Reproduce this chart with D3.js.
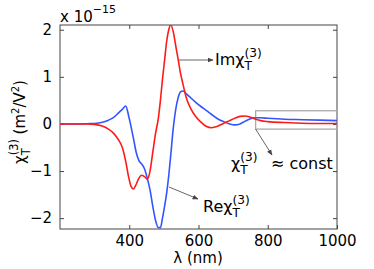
<!DOCTYPE html>
<html>
<head>
<meta charset="utf-8">
<script src="https://cdn.jsdelivr.net/npm/d3@7"></script>
<style>
  body { margin: 0; background: #fff; }
  text { font-family: "DejaVu Sans", sans-serif; fill: #000; }
</style>
</head>
<body>
<svg id="chart" width="374" height="269"></svg>
<script>
// wavelength grid (nm)
var lambda = [200, 250, 280, 300, 320, 340, 355, 370, 380, 390, 398, 405, 412, 420, 428, 436, 444, 452, 460, 468,
    476, 484, 490, 496, 502, 508, 514, 520, 527, 534, 541, 548, 555, 565, 578, 592, 607, 622, 638, 655,
    672, 690, 705, 720, 735, 750, 765, 780, 800, 850, 900, 950, 1000];

// Re chi_T^(3), units of 1e-15 m^2/V^2
var reChi = [0, 0, 0.005, 0.01, 0.03, 0.08, 0.14, 0.24, 0.31, 0.38, 0.18, -0.05, -0.3, -0.6, -0.78, -0.85, -0.95, -1.15, -1.4, -1.75,
    -2.05, -2.2, -2.2, -2.0, -1.75, -1.47, -1.1, -0.65, -0.1, 0.3, 0.55, 0.68, 0.7, 0.64, 0.55, 0.46, 0.37, 0.29, 0.2, 0.11,
    0.05, 0.0, -0.02, 0.0, 0.06, 0.11, 0.13, 0.13, 0.12, 0.1, 0.09, 0.08, 0.07];

// Im chi_T^(3)
var imChi = [0, 0, 0, -0.01, -0.04, -0.11, -0.2, -0.35, -0.5, -0.8, -1.12, -1.32, -1.38, -1.28, -1.15, -1.09, -1.12, -1.17, -1.0, -0.6,
    -0.2, 0.12, 0.5, 0.95, 1.35, 1.75, 2.0, 2.1, 1.96, 1.67, 1.38, 1.08, 0.85, 0.55, 0.32, 0.16, 0.04, -0.05, -0.08, -0.05,
    0.01, 0.07, 0.12, 0.16, 0.17, 0.14, 0.1, 0.07, 0.05, 0.03, 0.015, 0.01, 0.01];

var xTicks = [400, 600, 800, 1000];
var yTicks = [-2, -1, 0, 1, 2];
var yTickLabels = ['\u22122', '\u22121', '0', '1', '2'];

var margin = { top: 25, right: 37, bottom: 40, left: 60 },
    width = 374,
    height = 269,
    plotW = width - margin.left - margin.right,
    plotH = height - margin.top - margin.bottom;

var svg = d3.select('#chart');

var xScale = d3.scaleLinear().domain([200, 1000]).range([margin.left, margin.left + plotW]);
var yScale = d3.scaleLinear().domain([-2.23, 2.1]).range([margin.top + plotH, margin.top]);

svg.append('defs').append('clipPath').attr('id', 'plotClip')
    .append('rect')
    .attr('x', margin.left).attr('y', margin.top)
    .attr('width', plotW).attr('height', plotH);

var marker = svg.select('defs').append('marker')
    .attr('id', 'arrow')
    .attr('viewBox', '0 0 10 10')
    .attr('refX', 9).attr('refY', 5)
    .attr('markerWidth', 6).attr('markerHeight', 6)
    .attr('markerUnits', 'userSpaceOnUse')
    .attr('orient', 'auto');
marker.append('path').attr('d', 'M0,1 L10,5 L0,9 Z').attr('fill', '#444');

// axes: inside ticks on all four sides, like the matlab box
var tickLen = 4;
var axisColor = '#444';

function styleAxis(g) {
    g.select('.domain').remove();
    g.selectAll('.tick line').attr('stroke', axisColor);
    g.selectAll('.tick text').attr('font-size', 15).attr('fill', '#000')
        .attr('font-family', '"DejaVu Sans", sans-serif');
}

svg.append('g')
    .attr('transform', 'translate(0,' + (margin.top + plotH) + ')')
    .call(d3.axisBottom(xScale).tickValues(xTicks).tickSizeInner(-tickLen).tickSizeOuter(0)
        .tickPadding(6).tickFormat(d3.format('d')))
    .call(styleAxis);

svg.append('g')
    .attr('transform', 'translate(0,' + margin.top + ')')
    .call(d3.axisTop(xScale).tickValues(xTicks.slice(0, 3)).tickSizeInner(-tickLen).tickSizeOuter(0).tickFormat(''))
    .call(styleAxis);

svg.append('g')
    .attr('transform', 'translate(' + margin.left + ',0)')
    .call(d3.axisLeft(yScale).tickValues(yTicks).tickSizeInner(-tickLen).tickSizeOuter(0)
        .tickPadding(8).tickFormat(function (d, i) { return yTickLabels[i]; }))
    .call(styleAxis);

svg.append('g')
    .attr('transform', 'translate(' + (margin.left + plotW) + ',0)')
    .call(d3.axisRight(yScale).tickValues(yTicks).tickSizeInner(-tickLen).tickSizeOuter(0).tickFormat(''))
    .call(styleAxis);

svg.append('rect')
    .attr('x', margin.left).attr('y', margin.top)
    .attr('width', plotW).attr('height', plotH)
    .attr('fill', 'none')
    .attr('stroke', axisColor)
    .attr('stroke-width', 1);

// inset box around the flat tail
svg.append('rect')
    .attr('x', xScale(765)).attr('y', yScale(0.28))
    .attr('width', xScale(1000) - xScale(765))
    .attr('height', yScale(-0.11) - yScale(0.28))
    .attr('fill', 'none')
    .attr('stroke', '#aaa')
    .attr('stroke-width', 1.3);

var lineRe = d3.line()
    .x(function (d, i) { return xScale(lambda[i]); })
    .y(function (d) { return yScale(d); })
    .curve(d3.curveMonotoneX);

var plotG = svg.append('g').attr('clip-path', 'url(#plotClip)');

plotG.append('path')
    .attr('d', lineRe(reChi))
    .attr('fill', 'none')
    .attr('stroke', '#3355ff')
    .attr('stroke-width', 1.6);

plotG.append('path')
    .attr('d', lineRe(imChi))
    .attr('fill', 'none')
    .attr('stroke', '#ff1a1a')
    .attr('stroke-width', 1.6);

// chi with stacked sub T and sup (3)
function addChi(text, size) {
    var s = size * 0.76;
    text.append('tspan').text('\u03c7');
    text.append('tspan').attr('font-size', s).attr('dy', size * 0.32).text('T');
    text.append('tspan').attr('font-size', s).attr('dx', -s * 0.61).attr('dy', -size * 0.8).text('(3)');
}

// exponent
var expo = svg.append('text').attr('x', margin.left).attr('y', 22).attr('font-size', 15);
expo.append('tspan').text('x 10');
expo.append('tspan').attr('font-size', 11).attr('dy', -9).text('\u221215');

// axis titles
svg.append('text')
    .attr('x', 198).attr('y', 263)
    .attr('text-anchor', 'middle')
    .attr('font-size', 15)
    .text('\u03bb (nm)');

var yTitle = svg.append('text')
    .attr('transform', 'translate(25,' + 122 + ') rotate(-90)')
    .attr('text-anchor', 'middle')
    .attr('font-size', 15);
addChi(yTitle, 15);
yTitle.append('tspan').attr('dy', 15 * 0.48).text(' (m');
yTitle.append('tspan').attr('font-size', 10).attr('dy', -6).text('2');
yTitle.append('tspan').attr('dy', 6).text('/V');
yTitle.append('tspan').attr('font-size', 10).attr('dy', -6).text('2');
yTitle.append('tspan').attr('dy', 6).text(')');

// annotations
var imLabel = svg.append('text').attr('x', 215).attr('y', 65).attr('font-size', 16);
imLabel.append('tspan').text('Im');
addChi(imLabel, 16);

var reLabel = svg.append('text').attr('x', 203).attr('y', 212).attr('font-size', 16);
reLabel.append('tspan').text('Re');
addChi(reLabel, 16);

var constLabel = svg.append('text').attr('x', 231).attr('y', 169).attr('font-size', 16);
addChi(constLabel, 16);
svg.append('text').attr('x', 271).attr('y', 169).attr('font-size', 16).text('\u2248 const');

function arrow(x1, y1, x2, y2) {
    svg.append('line')
        .attr('x1', x1).attr('y1', y1).attr('x2', x2).attr('y2', y2)
        .attr('stroke', '#555')
        .attr('stroke-width', 0.9)
        .attr('marker-end', 'url(#arrow)');
}
arrow(179, 60, 213, 60);
arrow(169, 187, 198, 199);
arrow(xScale(765), yScale(-0.11), 272, 155);
</script>
</body>
</html>
